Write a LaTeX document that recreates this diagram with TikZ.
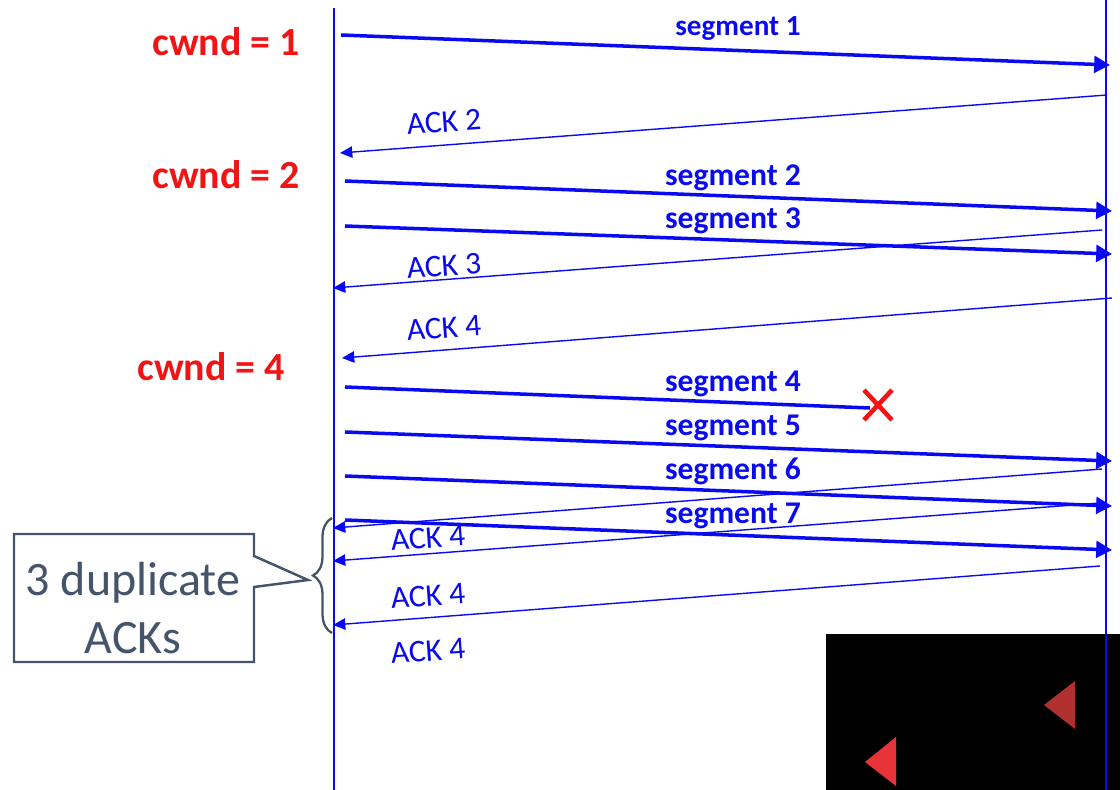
\documentclass[tikz,border=0pt]{standalone}
\usepackage{fontspec}
\setmainfont{Carlito}
\usetikzlibrary{arrows.meta,decorations.pathreplacing,calc}
\definecolor{seqblue}{RGB}{10,10,240}
\definecolor{cwred}{RGB}{240,20,20}
\definecolor{callgray}{RGB}{68,84,106}
\definecolor{darktri}{RGB}{176,48,48}
\definecolor{brighttri}{RGB}{232,51,56}
\tikzset{
  life/.style={draw=seqblue,line width=0.75pt},
  seg/.style={draw=seqblue,line width=2pt,-{Triangle[length=9pt,width=9.5pt]}},
  ack/.style={draw=seqblue,line width=0.8pt,-{Triangle[length=7pt,width=6.5pt]}},
  seglabel/.style={text=seqblue,font=\fontsize{18}{18}\selectfont\bfseries,inner sep=0pt},
  acklabel/.style={text=seqblue,font=\fontsize{18}{18}\selectfont,inner sep=0pt,rotate=4.3},
  cwlabel/.style={text=cwred,font=\fontsize{22.7}{22.7}\selectfont\bfseries,inner sep=0pt},
  calltext/.style={text=callgray,font=\fontsize{27.3}{33}\selectfont,align=center,inner sep=0pt},
}
\begin{document}
\begin{tikzpicture}[x=0.02cm,y=-0.02cm]
\useasboundingbox (0,0) rectangle (1120,790);
% black panel
\fill[black] (826,634) rectangle (1120,790);
\fill[darktri] (1044,705) -- (1075,681) -- (1075,729) -- cycle;
\fill[brighttri] (865,762) -- (896,737) -- (896,786) -- cycle;
% lifelines
\coordinate (Ltop) at (334,8);
\coordinate (Lbot) at (334,790);
\coordinate (Rtop) at (1106,0);
\coordinate (Rbot) at (1106,790);
\draw[life] (Ltop) -- (Lbot);
\draw[life] (Rtop) -- (Rbot);
% cwnd labels
\node[cwlabel] (cw1) at (226,42) {cwnd = 1};
\node[cwlabel] (cw2) at (226,175) {cwnd = 2};
\node[cwlabel] (cw4) at (211,367) {cwnd = 4};
% endpoints
\coordinate (s1a) at (341,35);  \coordinate (s1b) at (1110,65);
\coordinate (a2a) at (1107,95); \coordinate (a2b) at (340,153);
\coordinate (s2a) at (345,181); \coordinate (s2b) at (1112,211);
\coordinate (s3a) at (345,226); \coordinate (s3b) at (1112,254);
\coordinate (a3a) at (1102,230); \coordinate (a3b) at (333,288);
\coordinate (a4a) at (1112,298); \coordinate (a4b) at (342,358);
\coordinate (s4a) at (345,387); \coordinate (s4b) at (870,408);
\coordinate (s5a) at (345,432); \coordinate (s5b) at (1112,461);
\coordinate (s6a) at (345,476); \coordinate (s6b) at (1112,506);
\coordinate (d1a) at (1102,469); \coordinate (d1b) at (333,528);
\coordinate (s7a) at (345,520); \coordinate (s7b) at (1112,550);
\coordinate (d2a) at (1100,503); \coordinate (d2b) at (333,561);
\coordinate (d3a) at (1100,566); \coordinate (d3b) at (333,625);
% segments
\draw[seg] (s1a) -- (s1b);
\draw[ack] (a2a) -- (a2b);
\draw[seg] (s2a) -- (s2b);
\draw[seg] (s3a) -- (s3b);
\draw[ack] (a3a) -- (a3b);
\draw[ack] (a4a) -- (a4b);
\draw[draw=seqblue,line width=2pt] (s4a) -- (s4b);
\draw[seg] (s5a) -- (s5b);
\draw[seg] (s6a) -- (s6b);
\draw[ack] (d1a) -- (d1b);
\draw[seg] (s7a) -- (s7b);
\draw[ack] (d2a) -- (d2b);
\draw[ack] (d3a) -- (d3b);
% loss cross
\coordinate (xc) at (878,405);
\draw[cwred,line width=2.6pt] ($(xc)+(-14,-15)$) -- ($(xc)+(14,15)$);
\draw[cwred,line width=2.6pt] ($(xc)+(-14,15)$) -- ($(xc)+(14,-15)$);
% labels
\node[seglabel,font=\fontsize{16.6}{16.6}\selectfont\bfseries] (l1) at (738,29) {segment 1};
\node[acklabel] (la2) at (444,122) {ACK 2};
\node[seglabel] (l2) at (733,178) {segment 2};
\node[seglabel] (l3) at (733,221) {segment 3};
\node[acklabel] (la3) at (444,266) {ACK 3};
\node[acklabel] (la4) at (444,328) {ACK 4};
\node[seglabel] (l4) at (733,384) {segment 4};
\node[seglabel] (l5) at (733,428) {segment 5};
\node[seglabel] (l6) at (733,471) {segment 6};
\node[seglabel] (l7) at (733,516) {segment 7};
\node[acklabel] (ld1) at (428,538) {ACK 4};
\node[acklabel] (ld2) at (428,596) {ACK 4};
\node[acklabel] (ld3) at (428,651) {ACK 4};
% brace
\coordinate (bb) at (332,633);
\coordinate (bt) at (332,518);
\draw[callgray,line width=1.3pt,decorate,decoration={brace,amplitude=0.38cm}] (bb) -- (bt);
% callout
\draw[callgray,line width=1.4pt,fill=white] (14,534) -- (254,534) -- (254,556) -- (308,580) -- (254,587) -- (254,662) -- (14,662) -- cycle;
\node[calltext] (call) at (133,608) {3 duplicate\\ACKs};
\end{tikzpicture}
\end{document}
